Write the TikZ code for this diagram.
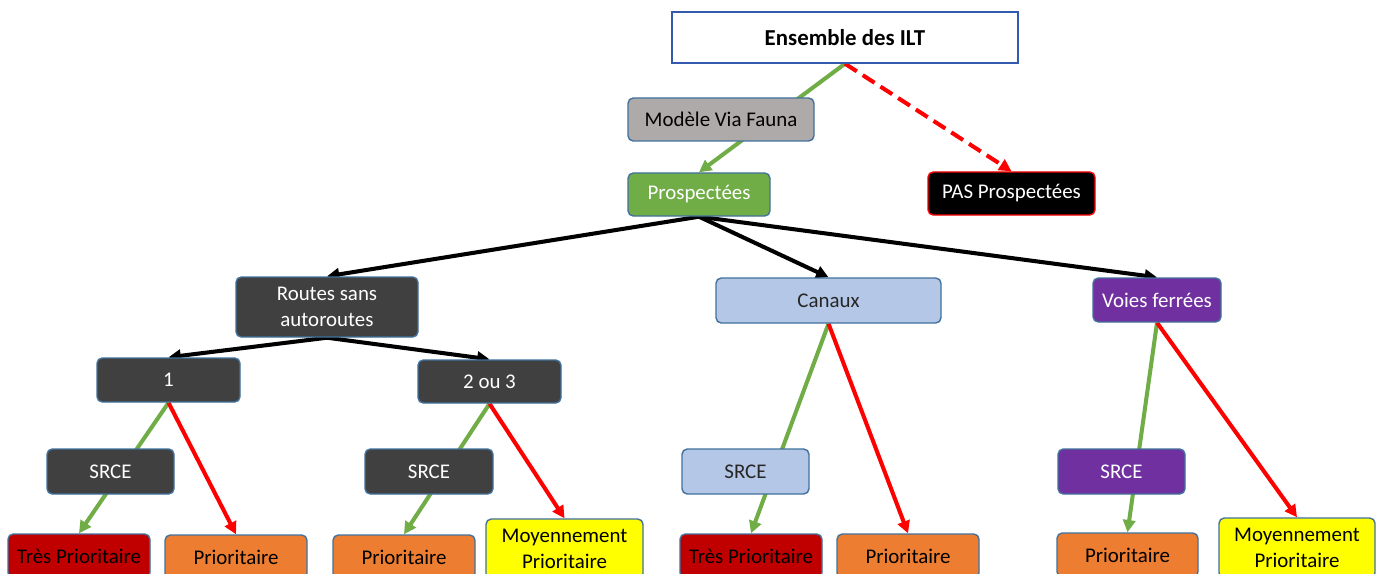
\documentclass[tikz,border=0pt]{standalone}
\usepackage{fontspec}
\setmainfont{Carlito}
\usetikzlibrary{arrows.meta,backgrounds}
\definecolor{bord}{HTML}{41719C}
\definecolor{gris}{HTML}{AEAAAA}
\definecolor{vert}{HTML}{70AD47}
\definecolor{sombre}{HTML}{404040}
\definecolor{bleuclair}{HTML}{B4C7E7}
\definecolor{violet}{HTML}{7030A0}
\definecolor{rougefonce}{HTML}{C00000}
\definecolor{orange}{HTML}{ED7D31}
\definecolor{jaune}{HTML}{FFFF00}

\begin{document}
\begin{tikzpicture}[x=0.02cm,y=-0.02cm,
  box/.style={draw=bord,line width=0.8pt,rounded corners=3pt,inner sep=0pt,align=center,
    font=\fontsize{11.9}{14.7}\selectfont},
  sz/.style 2 args={minimum width=#1*0.02cm,minimum height=#2*0.02cm},
  lien/.style={black,line width=2.3pt,-{Triangle[length=7pt,width=7pt]}},
  oui/.style={vert,line width=2.3pt,-{Triangle[length=7pt,width=7pt]}},
  non/.style={red,line width=2.3pt,-{Triangle[length=7pt,width=7pt]}}]
  \useasboundingbox (0,0) rectangle (1381,574);
  \clip (0,0) rectangle (1381,574);

  \node[box,sharp corners,draw=bord!80!blue,fill=white,sz={346}{51},font=\fontsize{13}{15}\selectfont\bfseries] (ilt) at (845,37.5) {Ensemble des ILT};
  \node[box,fill=gris,sz={186}{43}] (viafauna) at (721,119.5) {Modèle Via Fauna};
  \node[box,fill=vert,text=white,sz={142}{43}] (prosp) at (699,194.5) {Prospectées};
  \node[box,draw=red,fill=black,text=white,sz={167}{43}] (pas) at (1011.5,193.5) {PAS Prospectées};

  \node[box,fill=sombre,text=white,sz={182}{60}] (routes) at (327,307) {Routes sans\\autoroutes};
  \node[box,fill=bleuclair,text=black!85,sz={225}{45}] (canaux) at (828.5,300.5) {Canaux};
  \node[box,fill=violet,text=white,sz={128}{44}] (voies) at (1157,300) {Voies ferrées};

  \node[box,fill=sombre,text=white,sz={143}{44}] (un) at (168.5,380) {1};
  \node[box,fill=sombre,text=white,sz={143}{43}] (deuxtrois) at (489.5,381.5) {2 ou 3};

  \node[box,fill=sombre,text=white,sz={127}{45}] (srceA) at (110.5,471.5) {SRCE};
  \node[box,fill=sombre,text=white,sz={128}{45}] (srceB) at (429,471.5) {SRCE};
  \node[box,fill=bleuclair,text=black!85,sz={127}{45}] (srceC) at (745.5,471.5) {SRCE};
  \node[box,fill=violet,text=white,sz={127}{45}] (srceD) at (1121.5,471.5) {SRCE};

  \node[box,fill=rougefonce,sz={142}{44}] (tresA) at (79,556) {Très Prioritaire};
  \node[box,fill=orange,sz={142}{44}] (prioA) at (236,557) {Prioritaire};
  \node[box,fill=orange,sz={142}{44}] (prioB) at (404,557) {Prioritaire};
  \node[box,fill=jaune,sz={157}{60}] (moyB) at (564.5,549) {Moyennement\\Prioritaire};
  \node[box,fill=rougefonce,sz={142}{44}] (tresC) at (751,556) {Très Prioritaire};
  \node[box,fill=orange,sz={142}{44}] (prioC) at (908,556) {Prioritaire};
  \node[box,fill=orange,sz={141}{44}] (prioD) at (1127.5,555) {Prioritaire};
  \node[box,fill=jaune,sz={156}{60}] (moyD) at (1297,548) {Moyennement\\Prioritaire};

  \begin{scope}[on background layer]
    \fill[white] (0,0) rectangle (1381,574);
    \draw[oui] (ilt.south) -- (prosp.north);
    \draw[non,dash pattern=on 8pt off 4pt] (ilt.south) -- (pas.north);
    \foreach \n in {routes,canaux,voies}
      \draw[lien] (prosp.south) -- (\n.north);
    \draw[lien] (routes.south) -- (un.north);
    \draw[lien] (routes.south) -- (deuxtrois.north);
    \foreach \a/\v/\r in {un/tresA/prioA,deuxtrois/prioB/moyB,canaux/tresC/prioC,voies/prioD/moyD} {
      \draw[oui] (\a.south) -- (\v.north);
      \draw[non] (\a.south) -- (\r.north);
    }
  \end{scope}
\end{tikzpicture}
\end{document}
